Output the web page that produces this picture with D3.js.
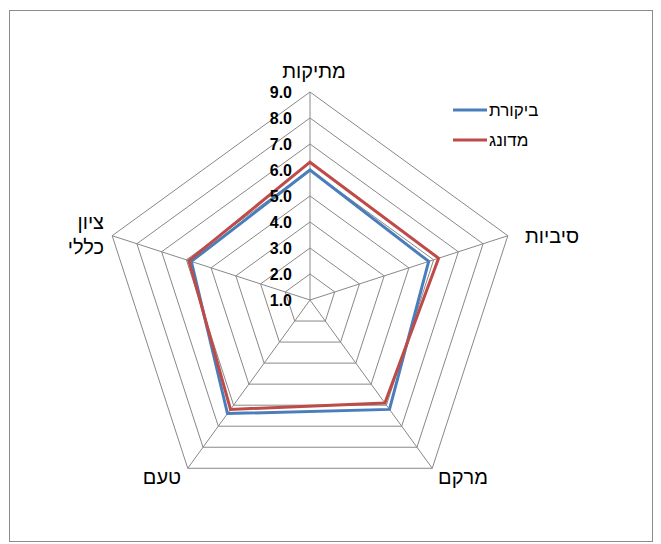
<!DOCTYPE html>
<html>
<head>
<meta charset="utf-8">
<script src="https://cdn.jsdelivr.net/npm/d3@7"></script>
<style>
  html, body { margin: 0; padding: 0; background: #fff; }
  svg { display: block; font-family: "Liberation Sans", Arial, sans-serif; }
</style>
</head>
<body>
<script>
// Categories around the radar (clockwise from the top)
const categories = ["מתיקות", "סיביות", "מרקם", "טעם", "ציון כללי"];
// Series
const seriesNames = ["ביקורת", "מדונג"];
const controlValues = [6.0, 5.8, 6.2, 6.4, 5.8];
const waxedValues = [6.3, 6.2, 5.9, 6.2, 5.9];
const seriesColors = ["#4A7EBB", "#BE4B48"];
// Radial axis
const tickValues = [1, 2, 3, 4, 5, 6, 7, 8, 9];
const axisMin = 1, axisMax = 9;

const W = 661, H = 544;
const cx = 310, cy = 300, R = 208;

const svg = d3.select("body").append("svg").attr("width", W).attr("height", H);

// chart border
svg.append("rect")
  .attr("x", 9.5).attr("y", 10.5).attr("width", 643).attr("height", 531)
  .attr("fill", "#fff").attr("stroke", "#8c8c8c").attr("stroke-width", 1);

const r = d3.scaleLinear().domain([axisMin, axisMax]).range([0, R]);
const angle = d3.scaleBand().domain(categories).range([0, 2 * Math.PI]).align(0).paddingInner(0).paddingOuter(0);
const pt = (c, v) => {
  const a = angle(c); // clockwise from top
  return [cx + r(v) * Math.sin(a), cy - r(v) * Math.cos(a)];
};

const g = svg.append("g");

// concentric pentagon grid
tickValues.filter(t => t > axisMin).forEach(t => {
  g.append("path")
    .attr("d", d3.line()(categories.map(c => pt(c, t))) + "Z")
    .attr("fill", "none").attr("stroke", "#888").attr("stroke-width", 1);
});
// spokes
categories.forEach(c => {
  const [x, y] = pt(c, axisMax);
  g.append("line").attr("x1", cx).attr("y1", cy).attr("x2", x).attr("y2", y)
    .attr("stroke", "#888").attr("stroke-width", 1);
});

// series polygons
const lineGen = d3.line();
[controlValues, waxedValues].forEach((vals, i) => {
  g.append("path")
    .attr("d", lineGen(categories.map((c, k) => pt(c, vals[k]))) + "Z")
    .attr("fill", "none")
    .attr("stroke", seriesColors[i])
    .attr("stroke-width", 3)
    .attr("stroke-linejoin", "miter");
});

// radial tick labels along the top spoke, drawn above the series
g.selectAll("text.tick").data(tickValues).join("text")
  .attr("class", "tick")
  .attr("x", cx - 18)
  .attr("y", d => cy - r(d))
  .attr("dy", "0.36em")
  .attr("text-anchor", "end")
  .attr("font-size", 16).attr("font-weight", "bold").attr("fill", "#000")
  .text(d => d3.format(".1f")(d));

// category labels
const labelPos = [
  { x: 314, y: 78, anchor: "middle" },
  { x: 552, y: 243, anchor: "middle" },
  { x: 463, y: 484, anchor: "middle" },
  { x: 162, y: 484, anchor: "middle" },
  { x: 104, y: 229, anchor: "end" }
];
categories.forEach((c, i) => {
  const p = labelPos[i];
  const t = svg.append("text")
    .attr("x", p.x).attr("y", p.y)
    .attr("text-anchor", p.anchor)
    .attr("font-size", 20).attr("fill", "#000");
  const parts = c.split(" ");
  if (parts.length > 1) {
    parts.forEach((w, k) => {
      t.append("tspan").attr("x", p.x).attr("dy", k === 0 ? 0 : 25).text(w);
    });
  } else {
    t.text(c);
  }
});

// legend
const legend = svg.append("g");
seriesNames.forEach((name, i) => {
  const y = 110 + i * 30;
  legend.append("line")
    .attr("x1", 453).attr("x2", 487).attr("y1", y).attr("y2", y)
    .attr("stroke", seriesColors[i]).attr("stroke-width", 3);
  legend.append("text")
    .attr("x", 489).attr("y", y).attr("dy", "0.36em")
    .attr("text-anchor", "start")
    .attr("font-size", 17).attr("fill", "#000")
    .text(name);
});
</script>
</body>
</html>
